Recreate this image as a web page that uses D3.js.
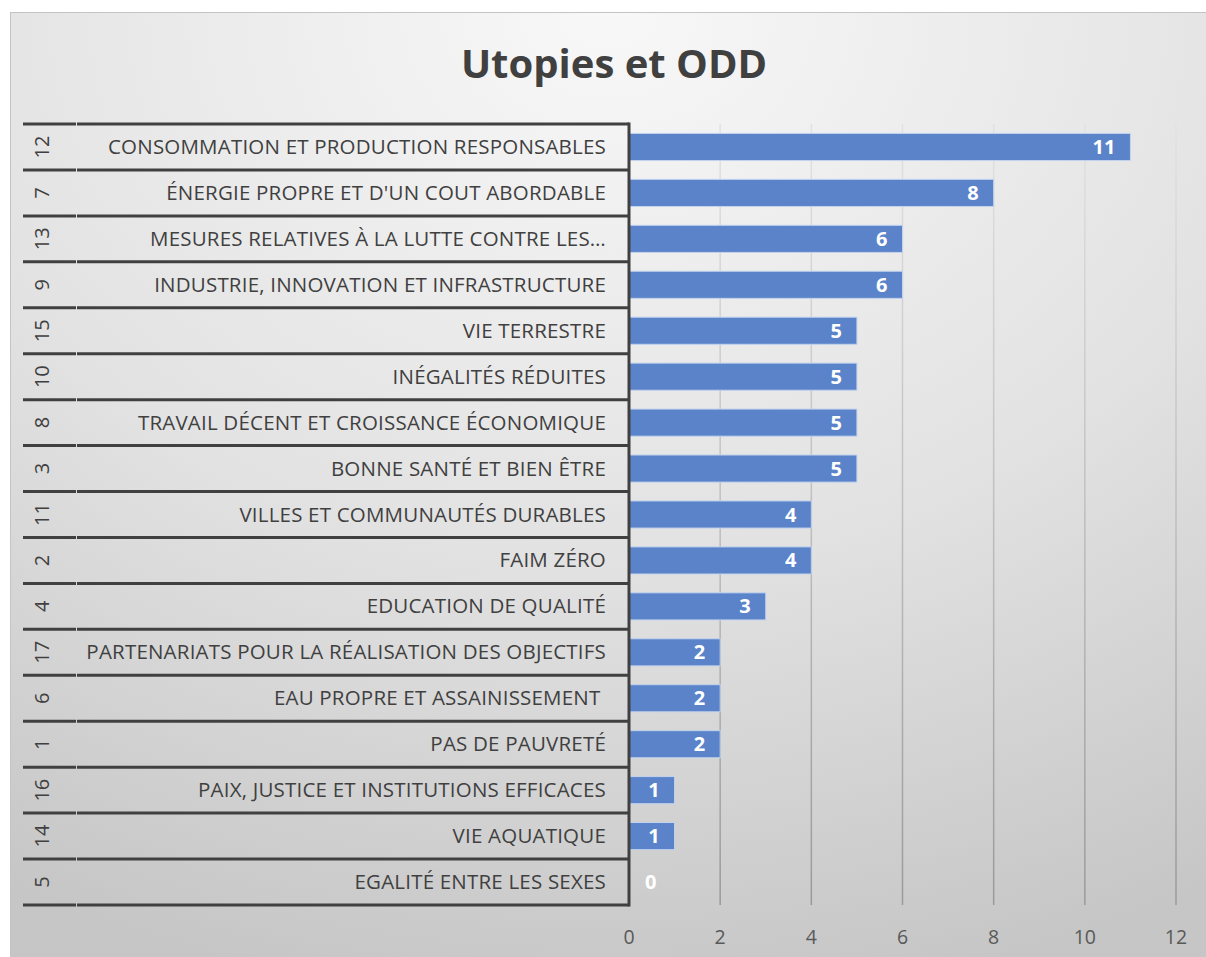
<!DOCTYPE html>
<html>
<head>
<meta charset="utf-8">
<script src="https://cdn.jsdelivr.net/npm/d3@7"></script>
<style>
  body { margin: 0; background: #fff; }
  svg text { font-family: "Open Sans", "Noto Sans", sans-serif; }
</style>
</head>
<body>
<div id="chart"></div>
<script>
// ODD numbers, labels and counts, top to bottom
const odd = ["12", "7", "13", "9", "15", "10", "8", "3", "11", "2", "4", "17", "6", "1", "16", "14", "5"]
const labels = [
  "CONSOMMATION ET PRODUCTION RESPONSABLES",
  "ÉNERGIE PROPRE ET D'UN COUT ABORDABLE",
  "MESURES RELATIVES À LA LUTTE CONTRE LES…",
  "INDUSTRIE, INNOVATION ET INFRASTRUCTURE",
  "VIE TERRESTRE",
  "INÉGALITÉS RÉDUITES",
  "TRAVAIL DÉCENT ET CROISSANCE ÉCONOMIQUE",
  "BONNE SANTÉ ET BIEN ÊTRE",
  "VILLES ET COMMUNAUTÉS DURABLES",
  "FAIM ZÉRO",
  "EDUCATION DE QUALITÉ",
  "PARTENARIATS POUR LA RÉALISATION DES OBJECTIFS",
  "EAU PROPRE ET ASSAINISSEMENT ",
  "PAS DE PAUVRETÉ",
  "PAIX, JUSTICE ET INSTITUTIONS EFFICACES",
  "VIE AQUATIQUE",
  "EGALITÉ ENTRE LES SEXES"
]
const counts = [11, 8, 6, 6, 5, 5, 5, 5, 4, 4, 3, 2, 2, 2, 1, 1, 0]
const xTicks = [0, 2, 4, 6, 8, 10, 12]

const width = 1206, height = 957
const plot = {left: 629, right: 1176, top: 124, bottom: 905}

const svg = d3.select("#chart").append("svg")
  .attr("width", width)
  .attr("height", height)

const defs = svg.append("defs")
const bg = defs.append("radialGradient").attr("id", "bg")
  .attr("cx", "0.5").attr("cy", "0").attr("r", "1.05")
bg.append("stop").attr("offset", "0").attr("stop-color", "#f8f8f8")
bg.append("stop").attr("offset", "0.55").attr("stop-color", "#e2e2e2")
bg.append("stop").attr("offset", "1").attr("stop-color", "#c6c6c6")

const gridGrad = defs.append("linearGradient").attr("id", "gridGrad")
  .attr("gradientUnits", "userSpaceOnUse")
  .attr("x1", 0).attr("x2", 0).attr("y1", plot.top).attr("y2", plot.bottom)
gridGrad.append("stop").attr("offset", "0").attr("stop-color", "#e2e2e2")
gridGrad.append("stop").attr("offset", "1").attr("stop-color", "#9a9a9a")

svg.append("rect")
  .attr("x", 10.5).attr("y", 12.5)
  .attr("width", width - 10).attr("height", height - 12)
  .attr("fill", "url(#bg)")
  .attr("stroke", "#c4c4c4")

svg.append("text")
  .attr("x", 614).attr("y", 78)
  .attr("text-anchor", "middle")
  .attr("font-size", 40).attr("font-weight", "bold")
  .attr("fill", "#404040")
  .text("Utopies et ODD")

let x = d3.scaleLinear().domain([0, 12]).range([plot.left, plot.right])
let y = d3.scaleBand().domain(d3.range(counts.length))
  .range([plot.top, plot.bottom]).paddingInner(0.41).paddingOuter(0.205)
let row = d3.scaleBand().domain(d3.range(counts.length)).range([plot.top, plot.bottom])

// gridlines
svg.append("g").selectAll("line")
  .data(xTicks.filter(d => d > 0))
  .enter().append("line")
  .attr("x1", d => x(d)).attr("x2", d => x(d))
  .attr("y1", plot.top).attr("y2", plot.bottom)
  .attr("stroke", "url(#gridGrad)").attr("stroke-width", 1.5)

// x axis labels
svg.append("g").selectAll("text")
  .data(xTicks)
  .enter().append("text")
  .attr("x", d => x(d)).attr("y", 944)
  .attr("text-anchor", "middle")
  .attr("font-size", 19.5).attr("fill", "#595959")
  .text(d => d)

// bars
svg.append("g").selectAll("rect")
  .data(counts)
  .enter().append("rect")
  .attr("x", x(0))
  .attr("y", (d, i) => y(i))
  .attr("width", d => x(d) - x(0))
  .attr("height", y.bandwidth())
  .attr("fill", "#5a83c9")
  .attr("stroke", d => d > 0 ? "#c3d3ee" : "none")
  .attr("stroke-width", 1)

// value labels
svg.append("g").selectAll("text")
  .data(counts)
  .enter().append("text")
  .attr("x", d => d > 0 ? x(d) - 15 : x(0) + 16)
  .attr("y", (d, i) => y(i) + y.bandwidth() / 2 + 7)
  .attr("text-anchor", d => d > 0 ? "end" : "start")
  .attr("font-size", 20).attr("font-weight", "bold")
  .attr("fill", "#fff")
  .text(d => d)

// category axis: two levels
const cat = svg.append("g")
const bounds = d3.range(counts.length + 1).map(i => i < counts.length ? row(i) : plot.bottom)
cat.selectAll("line.h1")
  .data(bounds)
  .enter().append("line")
  .attr("x1", 23).attr("x2", 76)
  .attr("y1", d => d).attr("y2", d => d)
  .attr("stroke", "#404040").attr("stroke-width", 3)
cat.selectAll("line.h2")
  .data(bounds)
  .enter().append("line")
  .attr("x1", 77).attr("x2", plot.left)
  .attr("y1", d => d).attr("y2", d => d)
  .attr("stroke", "#404040").attr("stroke-width", 3)
cat.append("line")
  .attr("x1", plot.left).attr("x2", plot.left)
  .attr("y1", plot.top - 1.5).attr("y2", plot.bottom + 1.5)
  .attr("stroke", "#404040").attr("stroke-width", 3)

cat.selectAll("text.num")
  .data(odd)
  .enter().append("text")
  .attr("transform", (d, i) => "translate(49," + (row(i) + row.bandwidth() / 2) + ") rotate(-90)")
  .attr("text-anchor", "middle")
  .attr("font-size", 20).attr("fill", "#404040")
  .text(d => d)

cat.selectAll("text.lab")
  .data(labels)
  .enter().append("text")
  .attr("x", 606)
  .attr("y", (d, i) => row(i) + row.bandwidth() / 2 + 7)
  .attr("text-anchor", "end")
  .attr("font-size", 20.5).attr("letter-spacing", 0.2)
  .attr("fill", "#404040")
  .style("white-space", "pre")
  .text(d => d)
</script>
</body>
</html>
